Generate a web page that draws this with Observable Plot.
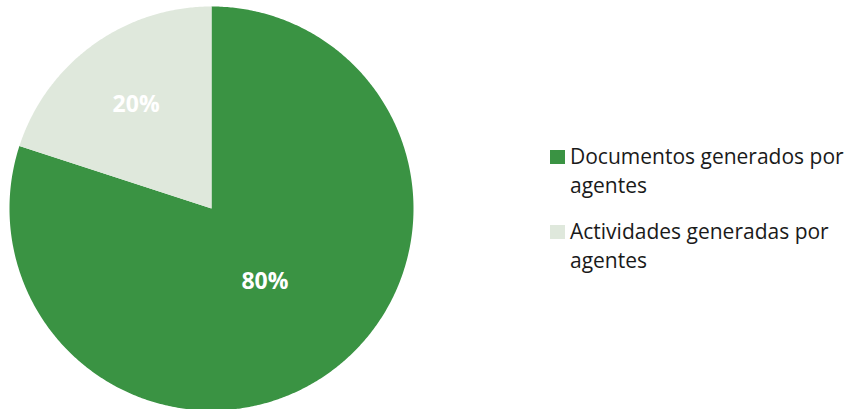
<!DOCTYPE html>
<html>
<head>
<meta charset="utf-8">
<script src="https://cdn.jsdelivr.net/npm/d3@7"></script>
<script src="https://cdn.jsdelivr.net/npm/@observablehq/plot@0.6"></script>
<style>
  html, body { margin: 0; padding: 0; background: #fff; }
  #wrap { position: relative; width: 852px; height: 409px; overflow: hidden; }
  #legend { position: absolute; left: 550px; top: 142px; width: 302px; font-family: "Open Sans", sans-serif; font-size: 21px; line-height: 29px; color: #1a1a1a; }
  .item { display: flex; align-items: flex-start; margin-bottom: 17px; }
  .sw { flex: none; width: 15px; height: 14px; margin-top: 8px; margin-right: 5px; }
  .lab { width: 282px; }
</style>
</head>
<body>
<div id="wrap"><div id="chart"></div><div id="legend"></div></div>
<script>
const categories = ["Documentos generados por agentes", "Actividades generadas por agentes"];
const shares = [80, 20];
const pctLabels = ["80%", "20%"];
const colors = ["#3a9343", "#dfe8dc"];
const labelRadius = [0.45, 0.635];

const arcs = d3.pie().sort(null).value(d => d)(shares);

const slicePoints = [];
const labelData = [];
arcs.forEach((a, i) => {
  const cat = categories[i];
  const n = Math.ceil((a.endAngle - a.startAngle) / (Math.PI / 360)) + 1;
  slicePoints.push({category: cat, x: 0, y: 0});
  for (let k = 0; k <= n; k++) {
    const t = a.startAngle + (a.endAngle - a.startAngle) * k / n;
    slicePoints.push({category: cat, x: Math.sin(t), y: Math.cos(t)});
  }
  slicePoints.push({category: cat, x: 0, y: 0});
  const m = (a.startAngle + a.endAngle) / 2;
  labelData.push({text: pctLabels[i], x: labelRadius[i] * Math.sin(m), y: labelRadius[i] * Math.cos(m)});
});

const chart = Plot.plot({
  width: 852,
  height: 409,
  margin: 0,
  x: {domain: [-1, 1], range: [9, 413], axis: null},
  y: {domain: [-1, 1], range: [410, 6], axis: null},
  color: {domain: categories, range: colors},
  style: {fontFamily: "'Open Sans', sans-serif", background: "white"},
  marks: [
    Plot.line(slicePoints, {x: "x", y: "y", z: "category", fill: "category", stroke: "none"}),
    Plot.text(labelData, {x: "x", y: "y", text: "text", fill: "white", fontWeight: "bold", fontSize: 23, fontFamily: "'Open Sans', sans-serif"})
  ]
});
document.getElementById("chart").appendChild(chart);

const colorScale = chart.scale("color");
const legend = d3.select("#legend");
categories.forEach(c => {
  const item = legend.append("div").attr("class", "item");
  item.append("div").attr("class", "sw").style("background", colorScale.apply(c));
  item.append("div").attr("class", "lab").text(c);
});
</script>
</body>
</html>
